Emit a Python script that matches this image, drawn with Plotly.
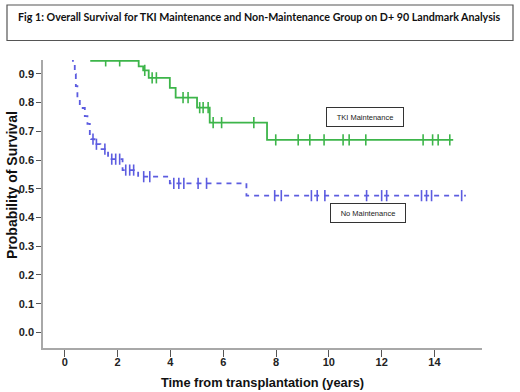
import numpy as np
import plotly.graph_objects as go

# ---- data ----
tki_times = [0, 1.0, 2.8, 2.97, 3.18, 3.98, 4.2, 5.01, 5.49, 7.66, 14.71]
tki_surv = [1.0, 0.945, 0.926, 0.912, 0.886, 0.851, 0.817, 0.782, 0.730, 0.670, 0.670]
tki_censor = [1.55, 2.08, 3.03, 3.31, 3.47, 4.48, 4.67, 5.11, 5.24, 5.43, 5.62, 5.94,
              7.16, 7.99, 8.84, 9.28, 9.82, 10.54, 10.77, 11.40, 13.57, 13.93, 14.14, 14.58]

no_times = [0, 0.31, 0.38, 0.42, 0.48, 0.57, 0.76, 0.86, 0.95, 1.0, 1.13, 1.35, 1.64,
            2.19, 2.78, 3.98, 6.88, 15.19]
no_surv = [1.0, 0.937, 0.899, 0.857, 0.816, 0.781, 0.753, 0.726, 0.684, 0.673, 0.655,
           0.638, 0.603, 0.565, 0.542, 0.519, 0.476, 0.476]
no_censor = [1.07, 1.2, 1.52, 1.78, 1.93, 2.08, 2.31, 2.46, 2.61, 2.99, 3.22, 4.13, 4.32,
             4.51, 5.05, 5.37, 7.95, 8.2, 9.34, 9.56, 9.85, 11.43, 12.0, 12.19, 13.51,
             13.7, 13.89, 15.03]

x_ticks = [0, 2, 4, 6, 8, 10, 12, 14]
y_ticks = [0.0, 0.1, 0.2, 0.3, 0.4, 0.5, 0.6, 0.7, 0.8, 0.9]

title_text = "Fig 1: Overall Survival for TKI Maintenance and Non-Maintenance Group on D+ 90 Landmark Analysis"
x_title = "Time from transplantation (years)"
y_title = "Probability of Survival"
label_tki = "TKI Maintenance"
label_no = "No Maintenance"

GREEN = "#3db54a"
BLUE = "#5c5ce0"


def step_at(times, surv, pts):
    t = np.asarray(times)
    s = np.asarray(surv)
    idx = np.searchsorted(t, np.asarray(pts), side="right") - 1
    return s[idx]


fig = go.Figure()
fig.add_trace(go.Scatter(x=tki_times, y=tki_surv, mode="lines", line_shape="hv",
                         line=dict(color=GREEN, width=1.8), showlegend=False, hoverinfo="skip"))
fig.add_trace(go.Scatter(x=tki_censor, y=step_at(tki_times, tki_surv, tki_censor), mode="markers",
                         marker=dict(symbol="line-ns", size=8, line=dict(color=GREEN, width=1.6)),
                         showlegend=False))
fig.add_trace(go.Scatter(x=no_times, y=no_surv, mode="lines", line_shape="hv",
                         line=dict(color=BLUE, width=1.8, dash="5px,5px"), showlegend=False,
                         hoverinfo="skip"))
fig.add_trace(go.Scatter(x=no_censor, y=step_at(no_times, no_surv, no_censor), mode="markers",
                         marker=dict(symbol="line-ns", size=8, line=dict(color=BLUE, width=1.6)),
                         showlegend=False))

# layout geometry (pixels)
L, R, T, B = 43, 38, 60, 44
W, H = 520, 392
pw, ph = W - L - R, H - T - B


def px_x(p):
    return (p - L) / pw


def px_y(p):
    return (H - B - p) / ph


fig.add_shape(type="rect", xref="paper", yref="paper",
              x0=px_x(7), x1=px_x(513), y0=px_y(40.5), y1=px_y(5),
              line=dict(color="#555555", width=1.2), fillcolor="white", layer="below")
fig.add_annotation(xref="paper", yref="paper", x=px_x(259), y=px_y(16), text=f"<b>{title_text}</b>",
                   showarrow=False, font=dict(family="Lato", size=10.7, color="#111111"),
                   xanchor="center", yanchor="middle")

# y axis title (placed as in the reference, slightly above plot centre)
fig.add_annotation(xref="paper", yref="paper", x=px_x(12), y=px_y(185), text=f"<b>{y_title}</b>",
                   textangle=-90, showarrow=False,
                   font=dict(family="Liberation Sans", size=14, color="#111111"),
                   xanchor="center", yanchor="middle")

fig.add_annotation(x=11.36, y=0.748, text=label_tki, showarrow=False,
                   font=dict(family="Liberation Sans", size=7.5, color="#222222"),
                   bordercolor="#333333", borderwidth=1, bgcolor="white",
                   width=74, height=16, borderpad=1)
fig.add_annotation(x=11.47, y=0.415, text=label_no, showarrow=False,
                   font=dict(family="Liberation Sans", size=7.5, color="#222222"),
                   bordercolor="#333333", borderwidth=1, bgcolor="white",
                   width=72, height=16, borderpad=1)

fig.update_layout(
    template="none",
    width=W, height=H,
    margin=dict(l=L, r=R, t=T, b=B, pad=0, autoexpand=False),
    paper_bgcolor="white", plot_bgcolor="white",
    font=dict(family="Liberation Sans", color="#222222"),
    xaxis=dict(range=[-0.823, 15.80], tickvals=x_ticks, ticktext=[f"<b>{v}</b>" for v in x_ticks],
               automargin=False,
               showgrid=False, zeroline=False, showline=True, linecolor="#a8a8a8", linewidth=1.5,
               ticks="outside", ticklen=7, tickcolor="#555555", tickwidth=1,
               ticklabelstandoff=-4,
               tickfont=dict(size=11, family="Liberation Sans", color="#222222"),
               title=dict(text=f"<b>{x_title}</b>", font=dict(size=12.8, family="Liberation Sans", color="#111111"),
                          standoff=11)),
    yaxis=dict(range=[-0.054, 0.948], tickvals=y_ticks, ticktext=[f"<b>{v:.1f}</b>" for v in y_ticks],
               automargin=False,
               showgrid=False, zeroline=False, showline=True, linecolor="#a8a8a8", linewidth=1.5,
               ticks="outside", ticklen=5, tickcolor="#555555", tickwidth=1,
               tickfont=dict(size=11, family="Liberation Sans", color="#222222")),
)

fig.write_html("out.html", config={"displayModeBar": False},
               post_script="document.body.style.margin='0px';document.body.style.overflow='hidden';")
